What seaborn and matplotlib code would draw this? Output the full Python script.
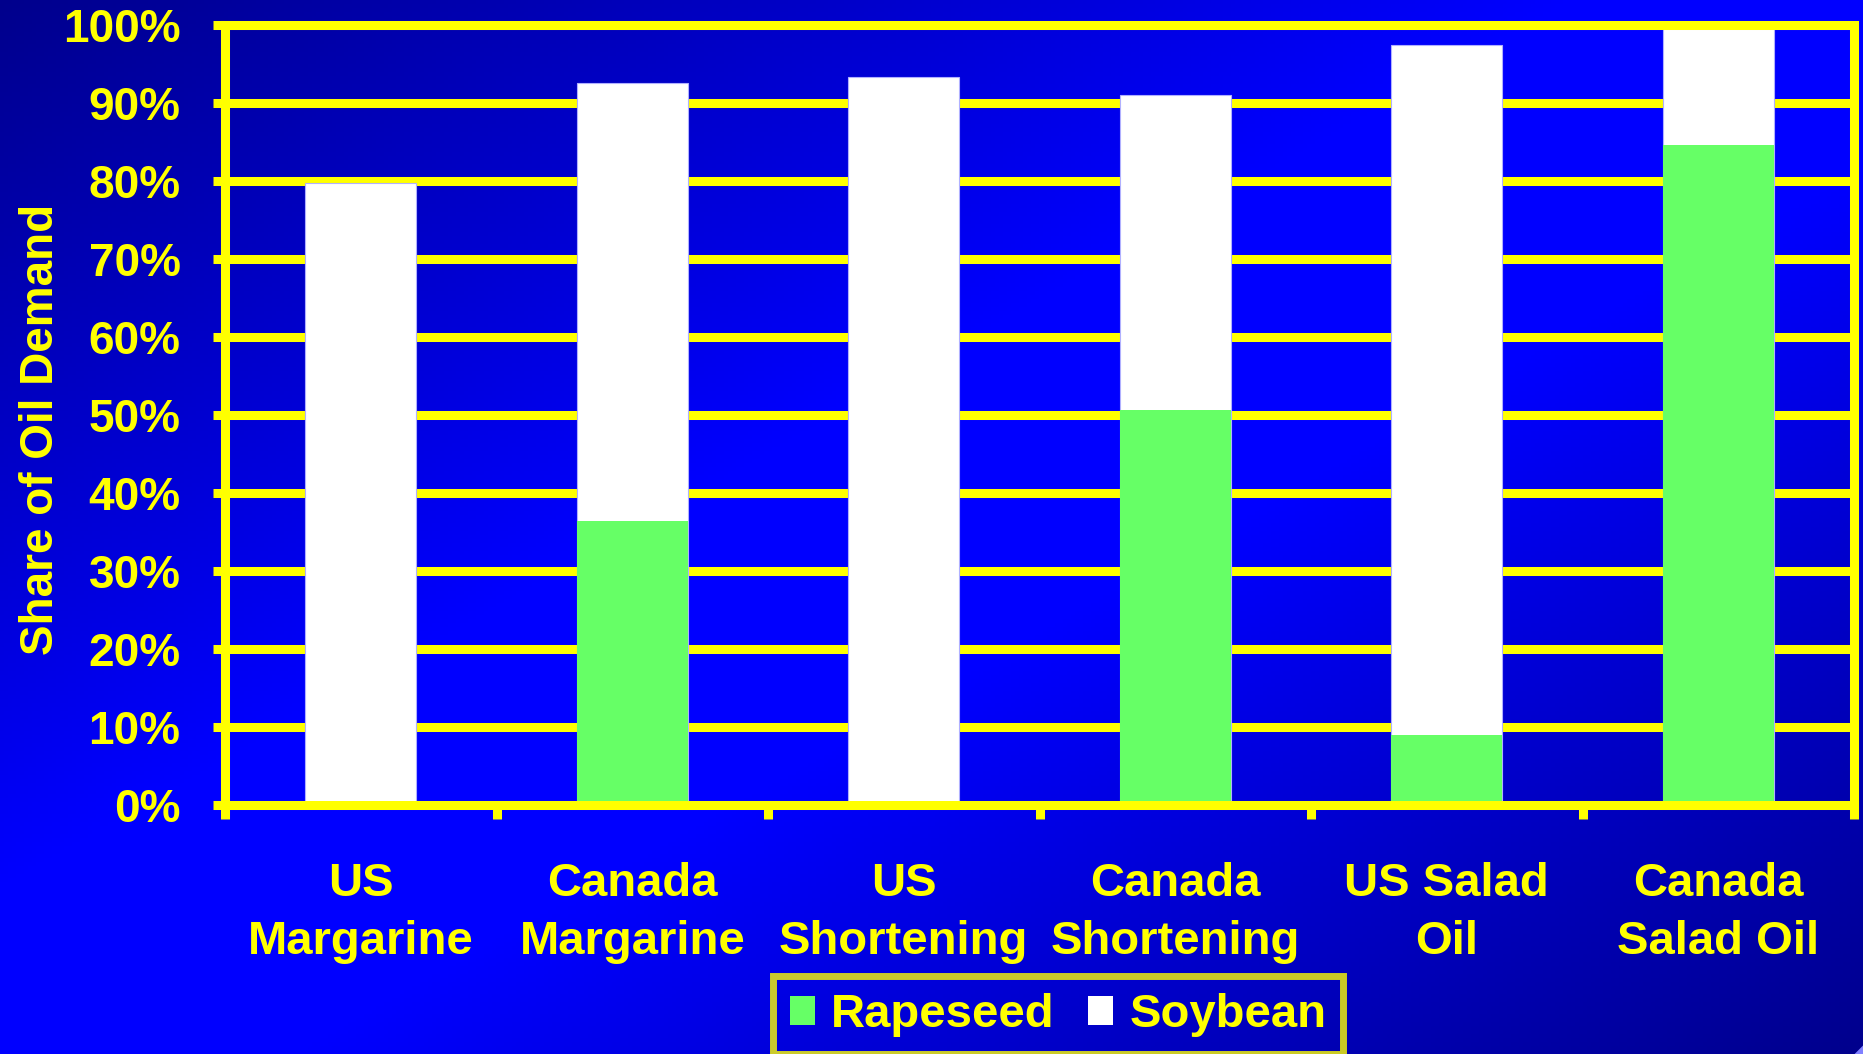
import numpy as np
import pandas as pd
import matplotlib
matplotlib.use("Agg")
import matplotlib.pyplot as plt
from matplotlib.patches import Patch, Polygon
from matplotlib.ticker import PercentFormatter, FixedLocator
import seaborn as sns

# Share of oil demand by product and country (%)
categories = ["US\nMargarine", "Canada\nMargarine", "US\nShortening",
              "Canada\nShortening", "US Salad\nOil", "Canada\nSalad Oil"]
rapeseed = [0.0, 36.4, 0.0, 50.6, 9.0, 84.6]
soybean = [79.7, 56.2, 93.3, 40.5, 88.5, 15.1]
y_ticks = [0, 10, 20, 30, 40, 50, 60, 70, 80, 90, 100]
series_names = ["Rapeseed", "Soybean"]

YELLOW = "#FFFF00"
GREEN = "#66FF66"
WHITE = "#FFFFFF"

sns.set_style("white")
plt.rcParams["font.family"] = ["Liberation Sans", "DejaVu Sans"]
plt.rcParams["font.weight"] = "bold"

df = pd.DataFrame({
    "product": categories,
    "rapeseed": rapeseed,
    "total": np.array(rapeseed) + np.array(soybean),
})

fig = plt.figure(figsize=(18.63, 10.54), dpi=100)

# diagonal blue gradient backdrop: dark corners top-left / bottom-right
bg = fig.add_axes([0, 0, 1, 1], zorder=-10)
H, W = 264, 466
yy, xx = np.mgrid[0:H, 0:W]
t = (xx / (W - 1) + yy / (H - 1)) / 2.0
d = np.clip((np.abs(t - 0.5) - 0.08) / 0.42, 0, 1)
blue = 1.0 - 0.45 * d
img = np.zeros((H, W, 3))
img[..., 2] = blue
bg.imshow(img, aspect="auto", extent=[0, 1, 0, 1], origin="upper")
bg.set_xlim(0, 1)
bg.set_ylim(0, 1)
bg.axis("off")
bg.add_patch(Polygon([[1.0, 0.0], [0.9955, 0.0], [1.0, 0.008]],
                     closed=True, facecolor="#8080FF", edgecolor="none"))

ax = fig.add_axes([0.1208, 0.2362, 0.8744, 0.7400])
ax.set_facecolor("none")

# stacked bars: soybean on top of rapeseed (total drawn first, rapeseed over it)
sns.barplot(data=df, x="product", y="total", color=WHITE, saturation=1,
            width=0.41, errorbar=None, ax=ax, edgecolor="#B0B0FF",
            linewidth=0.8, zorder=3)
sns.barplot(data=df, x="product", y="rapeseed", color=GREEN, saturation=1,
            width=0.41, errorbar=None, ax=ax, edgecolor="none",
            linewidth=0, zorder=4)

ax.set_xlim(-0.5, len(categories) - 0.5)
ax.set_ylim(0, 100)
ax.set_xlabel("")
ax.set_ylabel("")

lw = 6.5
ax.yaxis.set_major_locator(FixedLocator(y_ticks))
ax.yaxis.set_major_formatter(PercentFormatter(xmax=100, decimals=0))
ax.grid(axis="y", color=YELLOW, linewidth=lw, zorder=1)
ax.grid(axis="x", visible=False)
ax.set_axisbelow(True)

for side in ["left", "right", "bottom", "top"]:
    ax.spines[side].set_visible(True)
    ax.spines[side].set_color(YELLOW)
    ax.spines[side].set_linewidth(lw)
    ax.spines[side].set_zorder(5)

ax.tick_params(axis="y", which="major", direction="out", length=9,
               width=lw, color=YELLOW, labelcolor=YELLOW, labelsize=33,
               pad=23, left=True)
for lab in ax.get_yticklabels():
    lab.set_fontweight("bold")

# category labels at bar centres, tick marks at category boundaries
ax.set_xticks(range(len(categories)))
ax.set_xticklabels(categories, fontsize=34, fontweight="bold",
                   color=YELLOW, linespacing=1.42)
ax.tick_params(axis="x", which="major", length=0, pad=41)
ax.set_xticks(np.arange(-0.5, len(categories), 1.0), minor=True)
ax.tick_params(axis="x", which="minor", direction="out", length=10,
               width=lw, color=YELLOW, bottom=True)

fig.text(0.0222, 0.593, "Share of Oil Demand", rotation=90, color=YELLOW,
         fontsize=33, fontweight="bold", ha="center", va="center")

handles = [Patch(facecolor=GREEN, edgecolor="none", label=series_names[0]),
           Patch(facecolor=WHITE, edgecolor="none", label=series_names[1])]
leg = fig.legend(handles=handles, loc="center", bbox_to_anchor=(0.568, 0.037),
                 ncol=2, frameon=True, fancybox=False, fontsize=34,
                 handlelength=0.53, handleheight=0.55, handletextpad=0.35,
                 columnspacing=0.7, borderpad=0.35, borderaxespad=0)
frame = leg.get_frame()
frame.set_edgecolor(YELLOW)
frame.set_linewidth(5)
frame.set_facecolor("none")
for txt in leg.get_texts():
    txt.set_color(YELLOW)
    txt.set_fontweight("bold")

fig.savefig("out.png", dpi=100)
